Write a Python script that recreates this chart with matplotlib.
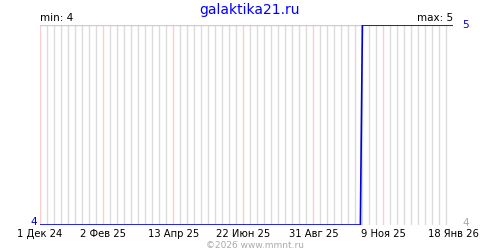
import matplotlib
matplotlib.use("Agg")
import matplotlib.pyplot as plt
import pandas as pd

# data: value changes (step from 4 to 5 in mid October 2025)
dates = ["2024-12-01", "2025-10-17", "2025-10-19", "2026-01-18"]
values = [4, 4, 5, 5]

tick_dates = ["2024-12-01", "2025-02-02", "2025-04-13", "2025-06-22",
              "2025-08-31", "2025-11-09", "2026-01-18"]
tick_labels = ["1 Дек 24", "2 Фев 25", "13 Апр 25", "22 Июн 25",
               "31 Авг 25", "9 Ноя 25", "18 Янв 26"]

y_min, y_max = 4, 5

x = pd.to_datetime(dates)
ticks = pd.to_datetime(tick_dates)
start, end = ticks[0], ticks[-1]

fig = plt.figure(figsize=(5, 2.5), dpi=100)
ax = fig.add_axes([40 / 500, 25 / 250, 413.5 / 500, 200 / 250])

# weekly grey grid, red on labelled dates
for d in pd.date_range(start, end, freq="7D"):
    if d in ticks:
        continue
    ax.axvline(d, color="#dcdcdc", lw=1, zorder=1)
for d in ticks:
    ax.axvline(d, color="#ffcccc", lw=1, zorder=2)
ax.axhline(y_max, color="#cccccc", lw=1, zorder=2)

ax.plot(x, values, color="#0000dd", lw=1.2, zorder=3, solid_capstyle="butt")

ax.set_xlim(start, end)
ax.set_ylim(y_min, y_max)
for s in ax.spines.values():
    s.set_visible(False)
ax.set_yticks([])
ax.set_xticks(ticks)
ax.set_xticklabels(tick_labels, fontsize=7.2)
ax.tick_params(axis="x", length=0, pad=3)

fig.text(0.5, 1 - 10 / 250, "galaktika21.ru", color="#0000ff", fontsize=10,
         ha="center", va="center")
fig.text(40 / 500, 1 - 18 / 250, f"min: {min(values)}", fontsize=7.5,
         ha="left", va="center")
fig.text(453 / 500, 1 - 18 / 250, f"max: {max(values)}", fontsize=7.5,
         ha="right", va="center")
fig.text(462 / 500, 1 - 25 / 250, str(y_max), color="#0000cc", fontsize=7.5,
         ha="left", va="center")
fig.text(37 / 500, 1 - 222 / 250, str(y_min), color="#0000cc", fontsize=7.5,
         ha="right", va="center")
fig.text(462 / 500, 1 - 223 / 250, str(y_min), color="#aaaaaa", fontsize=7.5,
         ha="left", va="center")
fig.text(255 / 500, 1 - 245 / 250, "©2026 www.mmnt.ru", color="#aaaaaa",
         fontsize=6.5, ha="center", va="center")

fig.savefig("out.png", dpi=100)
